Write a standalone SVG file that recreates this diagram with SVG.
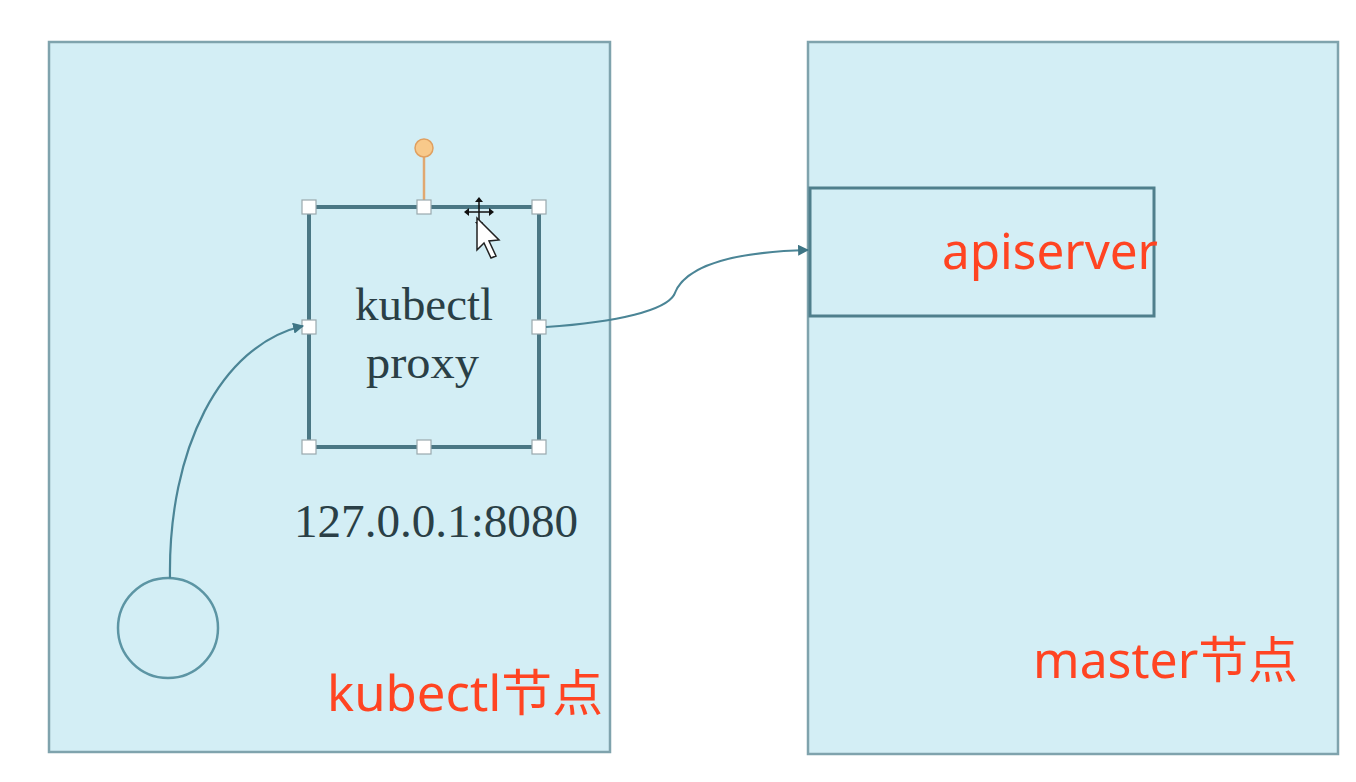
<svg xmlns="http://www.w3.org/2000/svg" width="1356" height="782" viewBox="0 0 1356 782">
<style>
.panel{fill:#d3eef5;stroke:#7fa3ad;stroke-width:2.5}
.box{fill:#d3eef5;stroke:#4f7f8c;stroke-width:3}
.proxy{fill:#d3eef5;stroke:#4a7784;stroke-width:4}
.h{fill:#ffffff;stroke:#9aa9ad;stroke-width:1.2}
.conn{fill:none;stroke:#4b8596;stroke-width:2.2}
.serif{font-family:"Liberation Serif","DejaVu Serif",serif;fill:#2a3f46}
.red{font-family:"Noto Sans","Noto Sans CJK SC",sans-serif;fill:#ff4422}
</style>
<defs>
<marker id="arr" viewBox="0 0 10 10" refX="9" refY="5" markerWidth="5" markerHeight="5" orient="auto" markerUnits="strokeWidth">
<path d="M0,0 L10,5 L0,10 z" fill="#3e7585"/>
</marker>
</defs>
<rect width="1356" height="782" fill="#ffffff"/>
<g id="kubectl-node">
<rect class="panel" x="49" y="42" width="561" height="710"/>
<text class="red" x="327" y="711" font-size="50" textLength="276" lengthAdjust="spacingAndGlyphs">kubectl节点</text>
</g>
<g id="master-node">
<rect class="panel" x="808" y="42" width="530" height="712"/>
<text class="red" x="1033" y="678" font-size="50" textLength="265" lengthAdjust="spacingAndGlyphs">master节点</text>
</g>
<g id="apiserver">
<rect class="box" x="810" y="188" width="344" height="128"/>
<text class="red" x="942" y="269" font-size="50" textLength="216" lengthAdjust="spacingAndGlyphs">apiserver</text>
</g>
<g id="client">
<circle cx="168" cy="628" r="50" fill="none" stroke="#5c95a4" stroke-width="2.5"/>
</g>
<g id="proxy">
<line x1="424" y1="150" x2="424" y2="207" stroke="#e0a870" stroke-width="2.5"/>
<circle cx="424" cy="148" r="9" fill="#f8c98a" stroke="#e0a060" stroke-width="1.5"/>
<rect class="proxy" x="309" y="207" width="230" height="240"/>
<text class="serif" x="355" y="320" font-size="46" textLength="138" lengthAdjust="spacingAndGlyphs">kubectl</text>
<text class="serif" x="366" y="378" font-size="46" textLength="113" lengthAdjust="spacingAndGlyphs">proxy</text>
<rect class="h" x="302" y="200" width="14" height="14"/>
<rect class="h" x="417" y="200" width="14" height="14"/>
<rect class="h" x="532" y="200" width="14" height="14"/>
<rect class="h" x="302" y="320" width="14" height="14"/>
<rect class="h" x="532" y="320" width="14" height="14"/>
<rect class="h" x="302" y="440" width="14" height="14"/>
<rect class="h" x="417" y="440" width="14" height="14"/>
<rect class="h" x="532" y="440" width="14" height="14"/>
<g id="cursor">
<path d="M479,197 l-4,5 h8 z M479,227 l-4,-5 h8 z M464,212 l5,-4 v8 z M494,212 l-5,-4 v8 z" fill="#111"/>
<line x1="467" y1="212" x2="491" y2="212" stroke="#111" stroke-width="1.5"/>
<line x1="479" y1="200" x2="479" y2="224" stroke="#111" stroke-width="1.5"/>
<path d="M477,218 L477,250 L484,243 L491,258 L496,256 L489,241 L499,240 Z" fill="#ffffff" stroke="#222" stroke-width="1.5"/>
</g>
</g>
<g id="address">
<text class="serif" x="294" y="537" font-size="46" textLength="284" lengthAdjust="spacingAndGlyphs">127.0.0.1:8080</text>
</g>
<g id="connectors">
<path class="conn" d="M170,578 C168,450 220,345 303,326" marker-end="url(#arr)"/>
<path class="conn" d="M546,327 C620,322 665,310 674,295 C684,266 730,252 808,250" marker-end="url(#arr)"/>
</g>
</svg>
